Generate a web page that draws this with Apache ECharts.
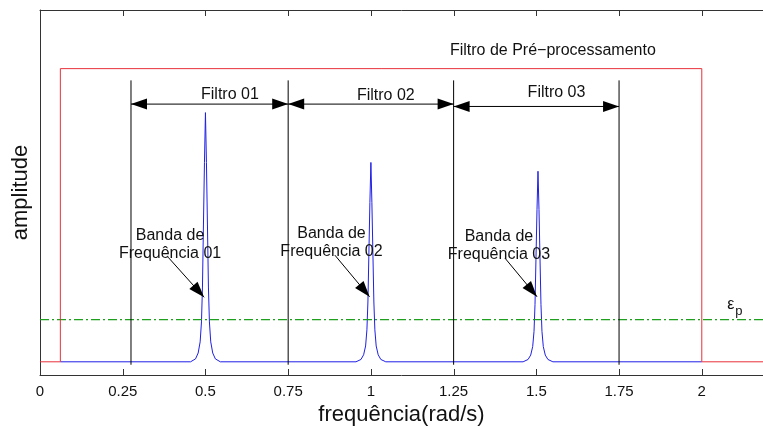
<!DOCTYPE html>
<html>
<head>
<meta charset="utf-8">
<script src="https://cdn.jsdelivr.net/npm/echarts@6/dist/echarts.min.js"></script>
<style>
  html, body { margin: 0; padding: 0; background: #fff; }
  #chart { width: 763px; height: 427px; }
</style>
</head>
<body>
<div id="chart"></div>
<script>
let chart = echarts.init(document.getElementById('chart'));

// eixo x
let xTicks = [0, 0.25, 0.5, 0.75, 1, 1.25, 1.5, 1.75, 2];
let xMin = 0, xMax = 2.185;
let yMin = -0.045, yMax = 1.2;

// filtro de pre-processamento (vermelho)
let redX = [0, 0.0615, 0.0615, 2, 2, 2.185];
let redY = [0, 0, 1, 1, 0, 0];

// picos (azul)
let peakCenters = [0.5, 1.0, 1.505];
let peakOffsets = [-0.045, -0.03, -0.022, -0.016, -0.012, -0.009, -0.006, -0.003, 0,
                   0.003, 0.006, 0.009, 0.012, 0.016, 0.022, 0.03, 0.045];
let peak1 = [0, 0.01, 0.03, 0.068, 0.136, 0.255, 0.47, 0.68, 0.85, 0.68, 0.47, 0.255, 0.136, 0.068, 0.03, 0.01, 0];
let peak2 = [0, 0.008, 0.024, 0.054, 0.109, 0.204, 0.374, 0.544, 0.68, 0.544, 0.374, 0.204, 0.109, 0.054, 0.024, 0.008, 0];
let peak3 = [0, 0.008, 0.023, 0.052, 0.104, 0.195, 0.357, 0.52, 0.65, 0.52, 0.357, 0.195, 0.104, 0.052, 0.023, 0.008, 0];
let blueStart = 0.0615;
let blueEnd = 2;

// limiar epsilon_p (verde)
let epsY = 0.144;

// linhas verticais dos filtros
let vlineX = [0.275, 0.75, 1.25, 1.75];
let vlineBottom = -0.01;
let vlineTop = 0.96;

// setas: x1, y1, x2, y2, ponta no inicio, ponta no fim
let arrowX1 = [0.275, 0.75, 1.25, 0.387, 0.891, 1.405];
let arrowY1 = [0.879, 0.879, 0.871, 0.357, 0.364, 0.354];
let arrowX2 = [0.75, 1.25, 1.75, 0.496, 0.996, 1.502];
let arrowY2 = [0.879, 0.879, 0.871, 0.22, 0.222, 0.222];
let arrowHeadStart = [1, 1, 1, 0, 0, 0];
let arrowHeadEnd = [1, 1, 1, 1, 1, 1];

// textos
let labelText = ['Filtro 01', 'Filtro 02', 'Filtro 03', 'Filtro de Pré−processamento',
    'Banda de\nFrequência 01', 'Banda de\nFrequência 02', 'Banda de\nFrequência 03', 'ε', 'p'];
let labelX = [0.574, 1.045, 1.561, 1.55, 0.393, 0.881, 1.387, 2.088, 2.112];
let labelY = [0.91, 0.908, 0.917, 1.063, 0.401, 0.405, 0.395, 0.196, 0.171];
let labelSize = [16, 16, 16, 16, 16, 16, 16, 16, 13];

let FONT = '"Liberation Sans", Arial, Helvetica, sans-serif';

let redData = redX.map(function (x, i) { return [x, redY[i]]; });
let blueData = [[blueStart, 0]];
[peak1, peak2, peak3].forEach(function (pk, j) {
    for (let i = 0; i < pk.length; i++) {
        blueData.push([peakCenters[j] + peakOffsets[i], pk[i]]);
    }
});
blueData.push([blueEnd, 0]);

let vlineData = vlineX.map(function (x) { return [x, vlineBottom, x, vlineTop, 0, 0]; });
let arrowData = arrowX1.map(function (x, i) {
    return [x, arrowY1[i], arrowX2[i], arrowY2[i], arrowHeadStart[i], arrowHeadEnd[i]];
});
let labelData = labelX.map(function (x, i) { return [x, labelY[i], i]; });
let tickData = xTicks.filter(function (x) { return x > xMin; }).map(function (x) { return [x]; });

function renderArrow(params, api) {
    let p1 = api.coord([api.value(0), api.value(1)]);
    let p2 = api.coord([api.value(2), api.value(3)]);
    let dx = p2[0] - p1[0], dy = p2[1] - p1[1];
    let len = Math.sqrt(dx * dx + dy * dy);
    let ux = dx / len, uy = dy / len;
    let L = 16, W = 5.5;
    let children = [{
        type: 'line',
        shape: {x1: p1[0], y1: p1[1], x2: p2[0], y2: p2[1]},
        style: {stroke: '#000', lineWidth: 1}
    }];
    function head(tip, dirx, diry) {
        let bx = tip[0] - dirx * L, by = tip[1] - diry * L;
        return {
            type: 'polygon',
            shape: {points: [[tip[0], tip[1]], [bx - diry * W, by + dirx * W], [bx + diry * W, by - dirx * W]]},
            style: {fill: '#000'}
        };
    }
    if (api.value(4)) children.push(head(p1, -ux, -uy));
    if (api.value(5)) children.push(head(p2, ux, uy));
    return {type: 'group', children: children};
}

// marcas dos eixos (dentro da caixa, em cima e em baixo)
function renderTick(params, api) {
    let pb = api.coord([api.value(0), yMin]);
    let pt = api.coord([api.value(0), yMax]);
    let x = Math.round(pb[0]) + 0.5;
    return {
        type: 'group',
        children: [
            {type: 'line', shape: {x1: x, y1: pb[1], x2: x, y2: pb[1] - 6}, style: {stroke: '#333', lineWidth: 1}},
            {type: 'line', shape: {x1: x, y1: pt[1], x2: x, y2: pt[1] + 6}, style: {stroke: '#333', lineWidth: 1}}
        ]
    };
}

function renderLabel(params, api) {
    let p = api.coord([api.value(0), api.value(1)]);
    let i = api.value(2);
    return {
        type: 'text',
        x: p[0],
        y: p[1],
        style: {
            text: labelText[i],
            fontSize: labelSize[i],
            fontFamily: FONT,
            lineHeight: 18,
            fill: '#111',
            align: 'center',
            verticalAlign: 'middle'
        }
    };
}

let axisCommon = {
    type: 'value',
    min: xMin,
    max: xMax,
    interval: 0.25,
    axisLine: {show: true, onZero: false, lineStyle: {color: '#333', width: 1}},
    axisTick: {show: false},
    splitLine: {show: false}
};

let option = {
    animation: false,
    backgroundColor: '#fff',
    grid: {left: 40, top: 10, right: 0, bottom: 52, outerBoundsMode: 'none'},
    xAxis: [
        Object.assign({}, axisCommon, {
            position: 'bottom',
            name: 'frequência(rad/s)',
            nameLocation: 'middle',
            nameGap: 24,
            nameTextStyle: {fontSize: 22, fontFamily: FONT, color: '#111'},
            axisLabel: {
                show: true, margin: 9, fontSize: 15, fontFamily: FONT, color: '#111',
                customValues: xTicks
            }
        }),
        Object.assign({}, axisCommon, {
            position: 'top',
            axisLabel: {show: false}
        })
    ],
    yAxis: {
        type: 'value',
        min: yMin,
        max: yMax,
        name: 'amplitude',
        nameLocation: 'middle',
        nameGap: 8,
        nameTextStyle: {fontSize: 22, fontFamily: FONT, color: '#111'},
        axisLine: {show: true, lineStyle: {color: '#333', width: 1}},
        axisTick: {show: false},
        axisLabel: {show: false},
        splitLine: {show: false}
    },
    series: [
        {
            type: 'line',
            data: blueData,
            showSymbol: false,
            symbol: 'none',
            lineStyle: {color: '#1f1fe6', width: 1},
            z: 2
        },
        {
            type: 'line',
            data: redData,
            showSymbol: false,
            symbol: 'none',
            lineStyle: {color: '#e8303a', width: 1},
            z: 3
        },
        {
            type: 'line',
            data: [[xMin, epsY], [xMax, epsY]],
            showSymbol: false,
            symbol: 'none',
            lineStyle: {color: '#1ea01e', width: 1.2, type: [9, 3, 2, 3]},
            z: 2
        },
        {
            type: 'custom',
            renderItem: renderTick,
            data: tickData,
            z: 1
        },
        {
            type: 'custom',
            renderItem: renderArrow,
            data: vlineData,
            z: 4
        },
        {
            type: 'custom',
            renderItem: renderArrow,
            data: arrowData,
            z: 5
        },
        {
            type: 'custom',
            renderItem: renderLabel,
            data: labelData,
            z: 6
        }
    ]
};
chart.setOption(option);
window.addEventListener('resize', function () {chart.resize();});
</script>
</body>
</html>
